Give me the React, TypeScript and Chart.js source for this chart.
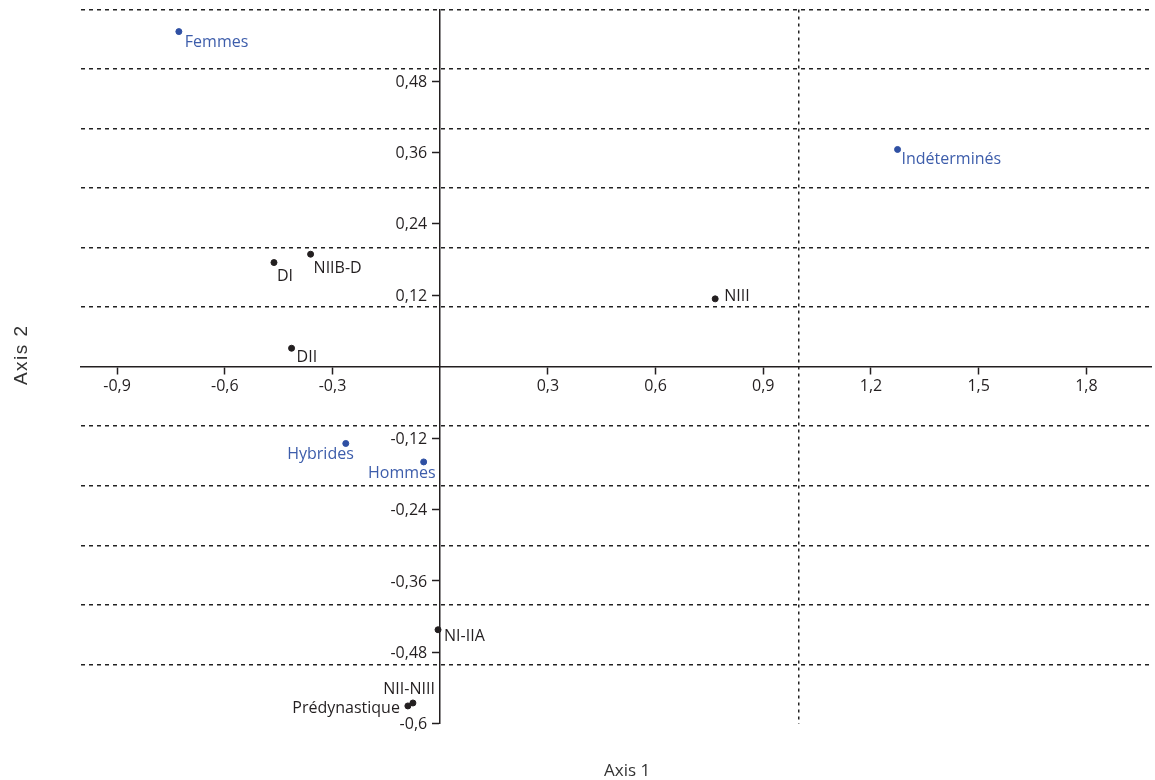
import React, { useEffect, useRef } from 'react';
import { Chart, registerables } from 'chart.js';

Chart.register(...registerables);

// Groups (blue)
const groupLabels = ['Femmes', 'Indéterminés', 'Hybrides', 'Hommes'];
const groupAxis1 = [-0.728, 1.274, -0.263, -0.046];
const groupAxis2 = [0.563, 0.365, -0.129, -0.16];

// Periods (black)
const periodLabels = ['DI', 'NIIB-D', 'NIII', 'DII', 'NI-IIA', 'NII-NIII', 'Prédynastique'];
const periodAxis1 = [-0.463, -0.361, 0.766, -0.414, -0.006, -0.076, -0.09];
const periodAxis2 = [0.175, 0.189, 0.114, 0.031, -0.442, -0.565, -0.57];

// Axis ranges and steps
const xMin = -1.0;
const xMax = 1.98;
const yMin = -0.6;
const yMax = 0.6;
const xTickStep = 0.3;
const yTickStep = 0.12;
const xGridStep = 1.0;
const yGridStep = 0.1;

const axisTitle1 = 'Axis 1';
const axisTitle2 = 'Axis 2';

// label placement relative to each point (text styling, not data)
const groupLabelPlacement = [
  { align: 'left', dx: 6, dy: 15 },
  { align: 'left', dx: 4, dy: 15 },
  { align: 'right', dx: 8, dy: 16 },
  { align: 'right', dx: 12, dy: 16 },
];
const periodLabelPlacement = [
  { align: 'left', dx: 3, dy: 18 },
  { align: 'left', dx: 3, dy: 19 },
  { align: 'left', dx: 9, dy: 2 },
  { align: 'left', dx: 5, dy: 14 },
  { align: 'left', dx: 6, dy: 11 },
  { align: 'right', dx: 22, dy: -9 },
  { align: 'right', dx: -8, dy: 7 },
];

const BLUE_POINT = '#2f50a3';
const BLUE_TEXT = '#3d5dab';
const BLACK = '#231f20';
const FONT = '"Open Sans", "Noto Sans", sans-serif';
const Y_TICK_LEN = 7;
const Y_LABEL_PAD = 6;

const fmt = (v: number) => {
  const r = Math.round(v * 100) / 100;
  return String(r).replace('.', ',');
};

const pointLabelsPlugin = {
  id: 'pointLabels',
  afterDatasetsDraw(chart: any) {
    const ctx = chart.ctx;
    ctx.save();
    ctx.font = `16px ${FONT}`;
    ctx.textBaseline = 'alphabetic';
    chart.data.datasets.forEach((ds: any, di: number) => {
      const meta = chart.getDatasetMeta(di);
      meta.data.forEach((el: any, i: number) => {
        const p = ds.placements[i];
        ctx.fillStyle = ds.labelColor;
        ctx.textAlign = p.align;
        ctx.fillText(ds.names[i], el.x + p.dx, el.y + p.dy);
      });
    });
    ctx.restore();
  },
};

// y-axis tick labels, placed to the left of the centred axis line
const yTickLabelsPlugin = {
  id: 'yTickLabels',
  afterDraw(chart: any) {
    const ctx = chart.ctx;
    const ys = chart.scales.y;
    const axisX = chart.scales.x.getPixelForValue(0);
    ctx.save();
    ctx.font = `16px ${FONT}`;
    ctx.fillStyle = BLACK;
    ctx.textAlign = 'right';
    ctx.textBaseline = 'middle';
    ys.ticks.forEach((t: any) => {
      if (t.label === null || t.label === undefined || t.label === '') return;
      ctx.fillText(t.label, axisX - Y_TICK_LEN - Y_LABEL_PAD, ys.getPixelForValue(t.value) + 1);
    });
    ctx.restore();
  },
};

const axisTitlesPlugin = {
  id: 'axisTitles',
  afterDraw(chart: any) {
    const ctx = chart.ctx;
    const area = chart.chartArea;
    ctx.save();
    ctx.fillStyle = '#333333';
    ctx.textAlign = 'center';
    ctx.textBaseline = 'alphabetic';
    ctx.font = `17px ${FONT}`;
    ctx.fillText(axisTitle1, (area.left + area.right) / 2 + 11, 776);
    ctx.translate(27, (area.top + area.bottom) / 2 - 12);
    ctx.rotate(-Math.PI / 2);
    ctx.font = '19px "Liberation Sans", Arial, sans-serif';
    try { (ctx as any).letterSpacing = '1.5px'; } catch (e) {}
    ctx.fillText(axisTitle2, 0, 0);
    ctx.restore();
  },
};

const zeroPadding = (scale: any) => {
  scale.paddingTop = 0;
  scale.paddingBottom = 0;
  scale.paddingLeft = 0;
  scale.paddingRight = 0;
};

export default function App() {
  const canvasRef = useRef<HTMLCanvasElement | null>(null);

  useEffect(() => {
    if (!canvasRef.current) return;
    const chart = new Chart(canvasRef.current, {
      type: 'scatter',
      data: {
        datasets: [
          {
            label: 'Groupes',
            data: groupAxis1.map((x, i) => ({ x, y: groupAxis2[i] })),
            backgroundColor: BLUE_POINT,
            borderColor: BLUE_POINT,
            pointRadius: 3,
            pointHoverRadius: 3,
            names: groupLabels,
            placements: groupLabelPlacement,
            labelColor: BLUE_TEXT,
          } as any,
          {
            label: 'Périodes',
            data: periodAxis1.map((x, i) => ({ x, y: periodAxis2[i] })),
            backgroundColor: BLACK,
            borderColor: BLACK,
            pointRadius: 3,
            pointHoverRadius: 3,
            names: periodLabels,
            placements: periodLabelPlacement,
            labelColor: BLACK,
          } as any,
        ],
      },
      options: {
        animation: false,
        responsive: true,
        maintainAspectRatio: false,
        events: [],
        layout: { padding: { left: 81.2, right: 3.1, top: 9.6, bottom: 56.2 } },
        plugins: {
          legend: { display: false },
          tooltip: { enabled: false },
          title: { display: false },
        },
        scales: {
          xg: {
            type: 'linear',
            axis: 'x',
            position: 'bottom',
            min: xMin,
            max: xMax,
            afterFit: zeroPadding,
            ticks: { display: false, stepSize: xGridStep, includeBounds: false },
            grid: {
              drawTicks: false,
              lineWidth: 1.5,
              color: (c: any) => (c.tick && Math.abs(c.tick.value - 1) < 1e-6 ? '#222222' : 'rgba(0,0,0,0)'),
            },
            border: { display: false, dash: [3, 4] },
          },
          yg: {
            type: 'linear',
            axis: 'y',
            position: 'left',
            min: yMin,
            max: yMax,
            afterFit: zeroPadding,
            ticks: { display: false, stepSize: yGridStep, includeBounds: false },
            grid: {
              drawTicks: false,
              lineWidth: 1.5,
              color: (c: any) => {
                const v = c.tick ? c.tick.value : 0;
                return Math.abs(v) > 1e-6 && v > -0.55 ? '#222222' : 'rgba(0,0,0,0)';
              },
            },
            border: { display: false, dash: [4, 4] },
          },
          x: {
            type: 'linear',
            position: { y: 0 } as any,
            min: xMin,
            max: xMax,
            afterFit: zeroPadding,
            ticks: {
              stepSize: xTickStep,
              includeBounds: false,
              autoSkip: false,
              maxRotation: 0,
              padding: 3,
              color: BLACK,
              font: { family: FONT, size: 16 },
              callback: (v: any) => (Math.abs(Number(v)) < 1e-6 ? null : fmt(Number(v))),
            },
            grid: {
              drawOnChartArea: false,
              drawTicks: true,
              tickLength: 7,
              tickWidth: 1.5,
              tickColor: BLACK,
              color: BLACK,
            },
            border: { display: true, color: BLACK, width: 1.5 },
          },
          y: {
            type: 'linear',
            position: { x: 0 } as any,
            min: yMin,
            max: yMax,
            afterFit: zeroPadding,
            ticks: {
              stepSize: yTickStep,
              includeBounds: false,
              autoSkip: false,
              padding: Y_LABEL_PAD,
              color: 'rgba(0,0,0,0)',
              font: { family: FONT, size: 16 },
              callback: (v: any) => {
                const n = Number(v);
                if (Math.abs(n) < 1e-6 || n > 0.55) return null;
                return fmt(n);
              },
            },
            grid: {
              drawOnChartArea: false,
              drawTicks: true,
              tickLength: Y_TICK_LEN,
              tickWidth: 1.5,
              tickColor: BLACK,
              color: BLACK,
            },
            border: { display: true, color: BLACK, width: 1.5 },
          },
        },
      } as any,
      plugins: [pointLabelsPlugin, yTickLabelsPlugin, axisTitlesPlugin],
    });
    return () => chart.destroy();
  }, []);

  return (
    <div style={{ position: 'fixed', left: 0, top: 0, width: 1155, height: 780, background: '#ffffff' }}>
      <canvas ref={canvasRef} />
    </div>
  );
}
